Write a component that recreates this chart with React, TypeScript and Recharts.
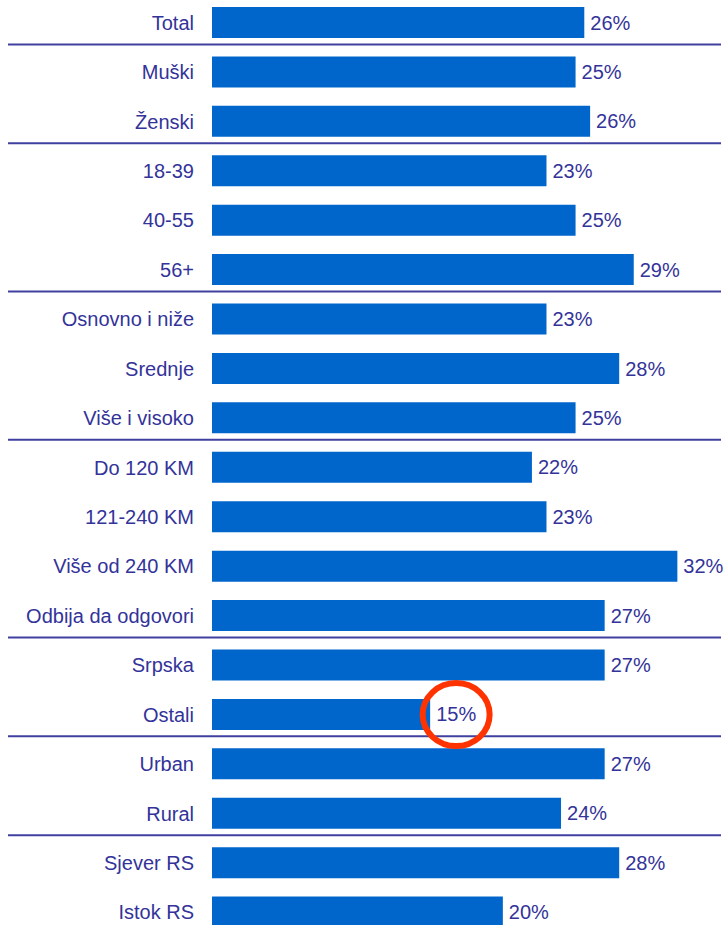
import React from 'react';
import { BarChart, Bar, XAxis, YAxis, LabelList, ReferenceLine, ReferenceDot } from 'recharts';

const categories = [
  'Total', 'Muški', 'Ženski', '18-39', '40-55', '56+', 'Osnovno i niže', 'Srednje',
  'Više i visoko', 'Do 120 KM', '121-240 KM', 'Više od 240 KM', 'Odbija da odgovori',
  'Srpska', 'Ostali', 'Urban', 'Rural', 'Sjever RS', 'Istok RS',
];
const values = [25.6, 25, 26, 23, 25, 29, 23, 28, 25, 22, 23, 32, 27, 27, 15, 27, 24, 28, 20];
// first category of each group; a separator is drawn above it
const groupStarts = ['Muški', '18-39', 'Osnovno i niže', 'Do 120 KM', 'Srpska', 'Urban', 'Sjever RS'];
const highlighted = 'Ostali';

const data = categories.map((name, i) => ({ name, value: values[i] }));

const textColor = '#333399';
const lineColor = '#4040a0';
const barColor = '#0066cc';

const Separator = (props: any) => {
  const { x1, x2, y1 } = props;
  if (x1 == null || y1 == null) return null;
  return <line x1={x1 - 204} x2={x2} y1={y1 - 3} y2={y1 - 3} stroke={lineColor} strokeWidth={2} />;
};

const Circle = (props: any) => {
  const { cx, cy } = props;
  if (cx == null || cy == null) return null;
  return <ellipse cx={cx + 26} cy={cy} rx={33.5} ry={31.5} fill="none" stroke="#ff3300" strokeWidth={6} />;
};

const App: React.FC = () => {
  return (
    <div style={{ position: 'fixed', left: 0, top: 0, width: 725, height: 925, overflow: 'hidden', background: '#fff' }}>
      <div style={{ position: 'absolute', left: 0, top: -2 }}>
        <BarChart
          width={725}
          height={939}
          data={data}
          layout="vertical"
          margin={{ top: 0, right: 4, bottom: 0, left: 0 }}
          style={{ fontFamily: '"Liberation Sans", Arial, sans-serif' }}
        >
          <XAxis type="number" domain={[0, 35]} hide />
          <YAxis
            type="category"
            dataKey="name"
            width={212}
            axisLine={false}
            tickLine={false}
            tickMargin={12}
            interval={0}
            tick={{ fill: textColor, fontSize: 20 }}
          />
          {groupStarts.map((g) => (
            <ReferenceLine key={g} y={g} position="start" ifOverflow="visible" shape={<Separator />} />
          ))}
          <Bar dataKey="value" fill={barColor} barSize={31} isAnimationActive={false}>
            <LabelList
              dataKey="value"
              position="right"
              offset={6}
              fill={textColor}
              fontSize={20}
              formatter={(v: any) => `${Math.round(Number(v))}%`}
            />
          </Bar>
          <ReferenceDot
            x={values[categories.indexOf(highlighted)]}
            y={highlighted}
            ifOverflow="visible"
            shape={<Circle />}
          />
        </BarChart>
      </div>
    </div>
  );
};

export default App;
